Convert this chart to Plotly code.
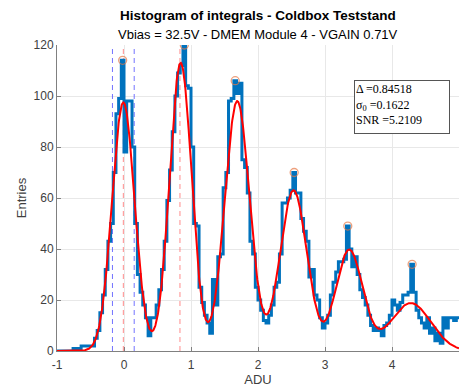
import numpy as np
import plotly.graph_objects as go

# ---------------- data ----------------
bin_start = -1.0
bin_width = 0.04
counts = [
    0, 0, 0, 0, 0, 0,
    1, 1, 1, 2, 2, 2, 2, 2,
    5, 8, 15, 22, 32, 43, 50, 70, 93, 99,
    114, 78, 98, 98, 80, 50, 30, 23, 18, 13,
    6, 13, 13, 18, 24, 32,
    43, 59, 71, 86, 100, 109, 112, 120, 104, 103,
    80, 50, 49, 25, 19, 14, 11, 7, 28, 18,
    37, 38, 64, 70, 98, 99, 106, 101, 105, 75,
    72, 62, 43, 38, 25, 20, 16, 12, 11, 14,
    18, 25, 27, 38, 58, 58, 60, 63, 70, 62,
    62, 52, 47, 43, 29, 32, 22, 20, 13, 9,
    11, 14, 22, 27, 31, 35, 35, 36, 49, 40,
    33, 37, 30, 24, 21, 18, 14, 10, 8, 9,
    8, 6, 10, 11, 14, 20, 18, 16, 19, 22,
    22, 23, 34, 23, 16, 13, 11, 9, 13, 7,
    9, 4, 7, 3, 13, 9, 13, 13, 12, 13,
]

# multi-gaussian fit parameters (per photo-electron peak)
fit_centers = [-0.01, 0.845, 1.69, 2.53, 3.36, 4.28]
fit_amps = [97.5, 113.0, 98.0, 63.0, 39.6, 18.8]
fit_sigmas = [0.168, 0.165, 0.185, 0.2, 0.2, 0.3]

delta = 0.84518
sigma0 = 0.1622
snr = 5.2109

title = "Histogram of integrals - Coldbox Teststand"
subtitle = "Vbias = 32.5V - DMEM Module 4 - VGAIN 0.71V"
x_ticks = [-1, 0, 1, 2, 3, 4, 5]
x_tick_labels = ["-1", "0", "1", "2", "3", "4", "5"]
y_ticks = [0, 20, 40, 60, 80, 100, 120]

# ---------------- derived ----------------
counts = np.array(counts, dtype=float)
n = len(counts)
edges = bin_start + bin_width * np.arange(n + 1)
centers = edges[:-1] + bin_width / 2
stair_x = np.append(edges[:-1], edges[-1])
stair_y = np.append(counts, counts[-1])

xf = np.linspace(-1, 5, 1201)
yf = np.zeros_like(xf)
for c, a, s in zip(fit_centers, fit_amps, fit_sigmas):
    yf += a * np.exp(-(xf - c) ** 2 / (2 * s ** 2))

# local maxima markers: max bin within each peak window
mk_x, mk_y = [], []
for c in fit_centers:
    m = (centers > c - delta / 2) & (centers < c + delta / 2)
    idx = np.where(m)[0]
    j = idx[np.argmax(counts[idx])]
    mk_x.append(centers[j])
    mk_y.append(counts[j])

fig = go.Figure()

# vertical dashed guide lines
for xv in [fit_centers[0] - sigma0, fit_centers[0] + sigma0]:
    fig.add_trace(go.Scatter(x=[xv, xv], y=[0, 120], mode="lines",
                             line=dict(color="rgba(90,90,255,0.85)", width=1, dash="5px,4px"),
                             hoverinfo="skip", showlegend=False))
for xv in [fit_centers[0], fit_centers[0] + delta]:
    fig.add_trace(go.Scatter(x=[xv, xv], y=[0, 120], mode="lines",
                             line=dict(color="rgba(255,110,110,0.8)", width=1, dash="5px,4px"),
                             hoverinfo="skip", showlegend=False))

fig.add_trace(go.Scatter(x=stair_x, y=stair_y, mode="lines", line_shape="hv",
                         line=dict(color="#0072BD", width=3), showlegend=False))
fig.add_trace(go.Scatter(x=xf, y=yf, mode="lines",
                         line=dict(color="#FF0000", width=2), showlegend=False))
fig.add_trace(go.Scatter(x=mk_x, y=mk_y, mode="markers",
                         marker=dict(symbol="circle-open", size=8,
                                     color="rgba(230,120,70,0.7)", line=dict(width=1.3)),
                         showlegend=False))

fig.update_layout(
    width=460, height=388,
    margin=dict(l=57, r=1, t=45, b=37),
    paper_bgcolor="white", plot_bgcolor="white",
    font=dict(family="Liberation Sans, Arial, sans-serif", color="#262626", size=12),
    xaxis=dict(range=[-1, 5], tickvals=x_ticks, ticktext=x_tick_labels,
               ticks="inside", ticklen=4, ticklabelstandoff=3,
               tickcolor="#808080", showline=True, linecolor="#808080", linewidth=1,
               showgrid=True, gridcolor="#e8e8e8", zeroline=False,
               tickfont=dict(size=12, color="#404040"),
               title=dict(text="ADU", font=dict(size=13, color="#404040"), standoff=2)),
    yaxis=dict(range=[0, 120], tickvals=y_ticks, ticks="inside", ticklen=4,
               tickcolor="#808080", showline=True, linecolor="#808080", linewidth=1,
               showgrid=True, gridcolor="#e8e8e8", zeroline=False,
               tickfont=dict(size=12, color="#404040"),
               title=dict(text="Entries", font=dict(size=13, color="#404040"), standoff=4)),
)

fig.add_annotation(xref="paper", yref="paper", x=0.5, y=1, yshift=30,
                   xanchor="center", yanchor="middle", showarrow=False,
                   text="<b>" + title + "</b>", font=dict(size=13.5, color="#000000"))
fig.add_annotation(xref="paper", yref="paper", x=0.5, y=1, yshift=11,
                   xanchor="center", yanchor="middle", showarrow=False,
                   text=subtitle, font=dict(size=13, color="#000000"))

box_text = ("Δ =%.5f<br>σ<sub>0</sub> =%.4f<br>SNR =%.4f" % (delta, sigma0, snr))
fig.add_annotation(xref="paper", yref="paper", x=(354 - 57) / 402, y=(351 - 80) / 306,
                   xanchor="left", yanchor="top", showarrow=False, align="left",
                   valign="top", width=92, height=50,
                   text=box_text, bgcolor="white", bordercolor="#555555", borderwidth=1,
                   borderpad=1,
                   font=dict(family="Liberation Serif, DejaVu Serif, serif", size=12, color="#000000"))

fig.write_html("out.html")
